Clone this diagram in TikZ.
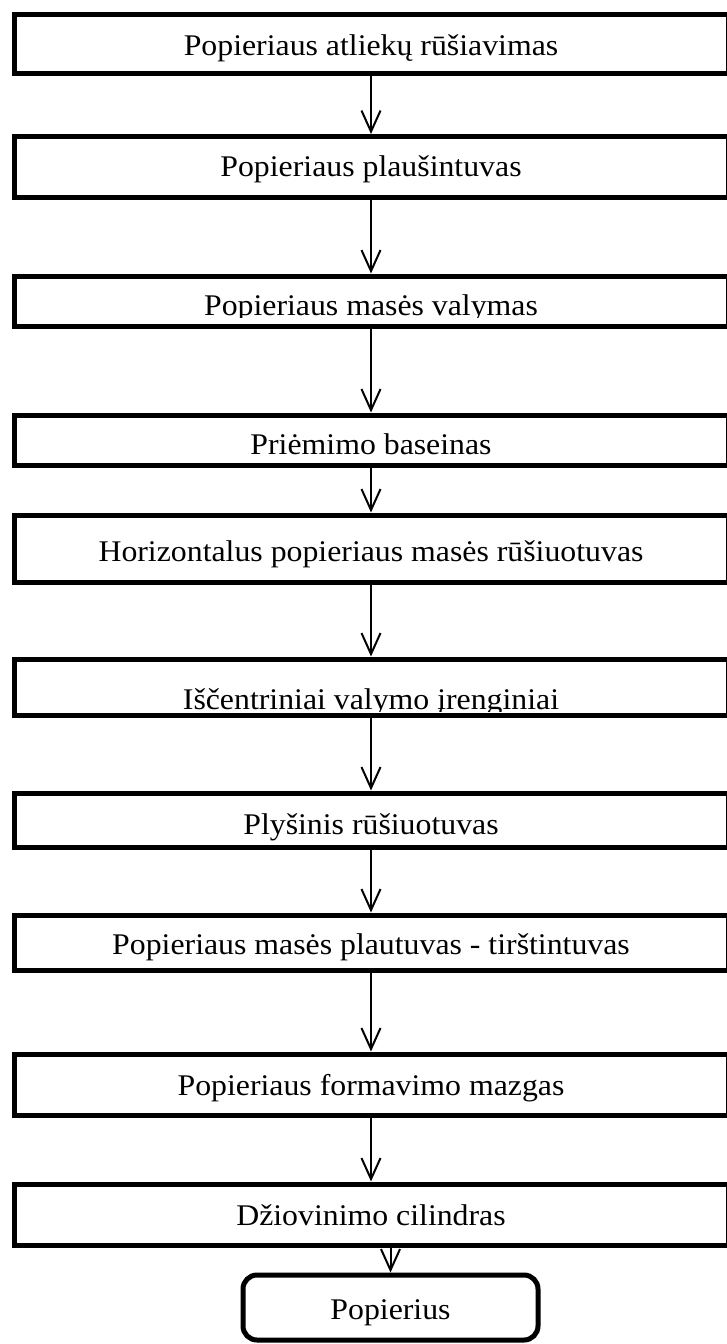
\documentclass[tikz,border=0pt]{standalone}
\usepackage{fontspec}
\setmainfont{Liberation Serif}
\usetikzlibrary{arrows.meta}
\begin{document}
\begin{tikzpicture}[x=1pt,y=-1pt,
  box/.style={draw, line width=5pt, minimum width=714pt, inner sep=0pt},
  endbox/.style={draw, line width=5pt, rounded corners=14pt, minimum width=295pt, inner sep=0pt},
  txt/.style={font=\fontsize{30}{34}\selectfont, inner sep=0pt, anchor=base, xscale=1.06, transform shape},
  flow/.style={line width=2pt, -{Straight Barb[length=21pt,width=19pt,line width=2pt]}}]
\path[use as bounding box, clip] (0,0) rectangle (727,1344);
\fill[white] (0,0) rectangle (727,1344);
% texts
\node[txt] (t1) at (371,55) {Popieriaus atliekų rūšiavimas};
\node[txt] (t2) at (371,176) {Popieriaus plaušintuvas};
\begin{scope}
\clip (0,0) rectangle (727,317);
\node[txt] (t3) at (371,315) {Popieriaus masės valymas};
\end{scope}
\begin{scope}
\clip (0,0) rectangle (727,455);
\node[txt] (t4) at (371,454) {Priėmimo baseinas};
\end{scope}
\node[txt] (t5) at (371,561) {Horizontalus popieriaus masės rūšiuotuvas};
\begin{scope}
\clip (0,0) rectangle (727,711);
\node[txt] (t6) at (371,709) {Iščentriniai valymo įrenginiai};
\end{scope}
\node[txt] (t7) at (371,834) {Plyšinis rūšiuotuvas};
\node[txt] (t8) at (371,954) {Popieriaus masės plautuvas - tirštintuvas};
\node[txt] (t9) at (371,1095) {Popieriaus formavimo mazgas};
\node[txt] (t10) at (371,1225) {Džiovinimo cilindras};
\node[txt] (t11) at (390.5,1319) {Popierius};
% boxes
\node[box, minimum height=59pt] (b1) at (371,43.5) {};
\node[box, minimum height=61pt] (b2) at (371,167) {};
\node[box, minimum height=50pt] (b3) at (371,301) {};
\node[box, minimum height=50pt] (b4) at (371,440) {};
\node[box, minimum height=67pt] (b5) at (371,548.5) {};
\node[box, minimum height=56pt] (b6) at (371,687) {};
\node[box, minimum height=54pt] (b7) at (371,820) {};
\node[box, minimum height=55pt] (b8) at (371,942.5) {};
\node[box, minimum height=61pt] (b9) at (371,1084.5) {};
\node[box, minimum height=61pt] (b10) at (371,1214.5) {};
\node[endbox, minimum height=65pt] (p) at (390.5,1307.5) {};
% connectors
\draw[flow] (b1.south) -- (b2.north);
\draw[flow] (b2.south) -- (b3.north);
\draw[flow] (b3.south) -- (b4.north);
\draw[flow] (b4.south) -- (b5.north);
\draw[flow] (b5.south) -- (b6.north);
\draw[flow] (b6.south) -- (b7.north);
\draw[flow] (b7.south) -- (b8.north);
\draw[flow] (b8.south) -- (b9.north);
\draw[flow] (b9.south) -- (b10.north);
\draw[flow] (b10.south -| p.north) -- (p.north);
\end{tikzpicture}
\end{document}
